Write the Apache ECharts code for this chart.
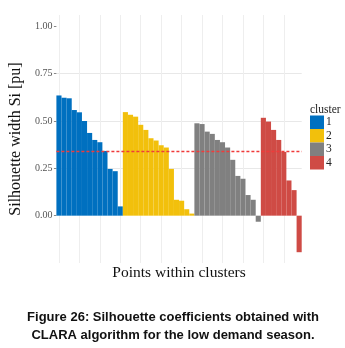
<!DOCTYPE html>
<html>
<head>
<meta charset="utf-8">
<script src="https://cdn.jsdelivr.net/npm/echarts@6/dist/echarts.min.js"></script>
<style>
  html, body { margin: 0; padding: 0; background: #fff; }
  #chart { width: 345px; height: 348px; }
</style>
</head>
<body>
<div id="chart"></div>
<script>
// silhouette widths, one array per cluster (sorted)
var cluster1 = [0.635, 0.623, 0.62, 0.558, 0.546, 0.50, 0.437, 0.40, 0.388, 0.342, 0.247, 0.235, 0.049];
var cluster2 = [0.547, 0.533, 0.523, 0.48, 0.453, 0.409, 0.397, 0.372, 0.36, 0.247, 0.084, 0.079, 0.034, 0.011];
var cluster3 = [0.488, 0.484, 0.444, 0.432, 0.40, 0.388, 0.36, 0.295, 0.21, 0.195, 0.109, 0.084, -0.032];
var cluster4 = [0.517, 0.497, 0.453, 0.40, 0.337, 0.186, 0.135, -0.193];
var clusterNames = ['1', '2', '3', '4'];
var clusterColors = ['#0070C0', '#F2C00C', '#808080', '#CF4B45'];
var meanWidth = 0.338;
var yTickLabels = [0, 0.25, 0.5, 0.75, 1.0];

var allClusters = [cluster1, cluster2, cluster3, cluster4];
var nPoints = 0;
allClusters.forEach(function (c) { nPoints += c.length; });
var categories = [];
for (var i = 0; i < nPoints; i++) categories.push(String(i + 1));

var series = [];
var offset = 0;
allClusters.forEach(function (c, k) {
  var data = [];
  for (var j = 0; j < nPoints; j++) {
    data.push(j >= offset && j < offset + c.length ? c[j - offset] : '-');
  }
  offset += c.length;
  series.push({
    name: clusterNames[k],
    type: 'bar',
    data: data,
    barGap: '-100%',
    barCategoryGap: 0,
    itemStyle: { color: clusterColors[k] }
  });
});
// dashed average line
series.push({
  name: 'mean',
  type: 'bar',
  data: [],
  z: 10,
  markLine: {
    silent: true,
    symbol: ['none', 'none'],
    label: { show: false },
    emphasis: { disabled: true },
    lineStyle: { color: '#F03A3A', type: [3, 2], width: 1.4, opacity: 1 },
    data: [{ yAxis: meanWidth }]
  }
});

var myChart = echarts.init(document.getElementById('chart'));
var option = {
  animation: false,
  backgroundColor: '#fff',
  title: [
    {
      text: 'cluster',
      left: 310, top: 104, padding: 0,
      textStyle: { fontFamily: 'Liberation Serif', fontSize: 11.5, fontWeight: 'normal', color: '#222' }
    },
    {
      text: 'Figure 26: Silhouette coefficients obtained with\nCLARA algorithm for the low demand season.',
      left: 173, top: 308, padding: 0,
      textAlign: 'center',
      textStyle: { fontFamily: 'Liberation Sans', fontSize: 13, fontWeight: 'bold', color: '#111', lineHeight: 18 }
    }
  ],
  legend: {
    data: clusterNames,
    orient: 'vertical',
    left: 310, top: 115.5,
    padding: 0,
    itemGap: 0,
    itemWidth: 14, itemHeight: 13.5,
    icon: 'rect',
    textStyle: { fontFamily: 'Liberation Serif', fontSize: 11.5, color: '#222', padding: [0, 0, 0, -3] }
  },
  grid: { left: 47.3, right: 43.3, top: 15, bottom: 85 },
  xAxis: {
    type: 'category',
    data: categories,
    boundaryGap: true,
    name: 'Points within clusters',
    nameLocation: 'middle',
    nameGap: 2,
    nameTextStyle: { fontFamily: 'Liberation Serif', fontSize: 15.5, color: '#111' },
    axisLine: { show: false },
    axisTick: { show: false },
    axisLabel: { show: false },
    splitLine: { show: true, alignWithLabel: true, lineStyle: { color: '#EEEEEE', width: 1 } }
  },
  yAxis: {
    type: 'value',
    min: -0.25,
    max: 1.06,
    interval: 0.25,
    name: 'Silhouette width Si [pu]',
    nameLocation: 'middle',
    nameGap: 22,
    nameTextStyle: { fontFamily: 'Liberation Serif', fontSize: 16, color: '#111' },
    axisLine: { show: false },
    axisTick: { show: true, length: 2.5, customValues: yTickLabels, lineStyle: { color: '#888' } },
    axisLabel: {
      fontFamily: 'Liberation Serif', fontSize: 10, color: '#555', margin: 4,
      customValues: yTickLabels,
      formatter: function (v) { return v.toFixed(2); }
    },
    splitLine: { show: true, showMinLine: false, showMaxLine: false, lineStyle: { color: '#E8E8E8', width: 1 } }
  },
  series: series
};
myChart.setOption(option);
</script>
</body>
</html>
